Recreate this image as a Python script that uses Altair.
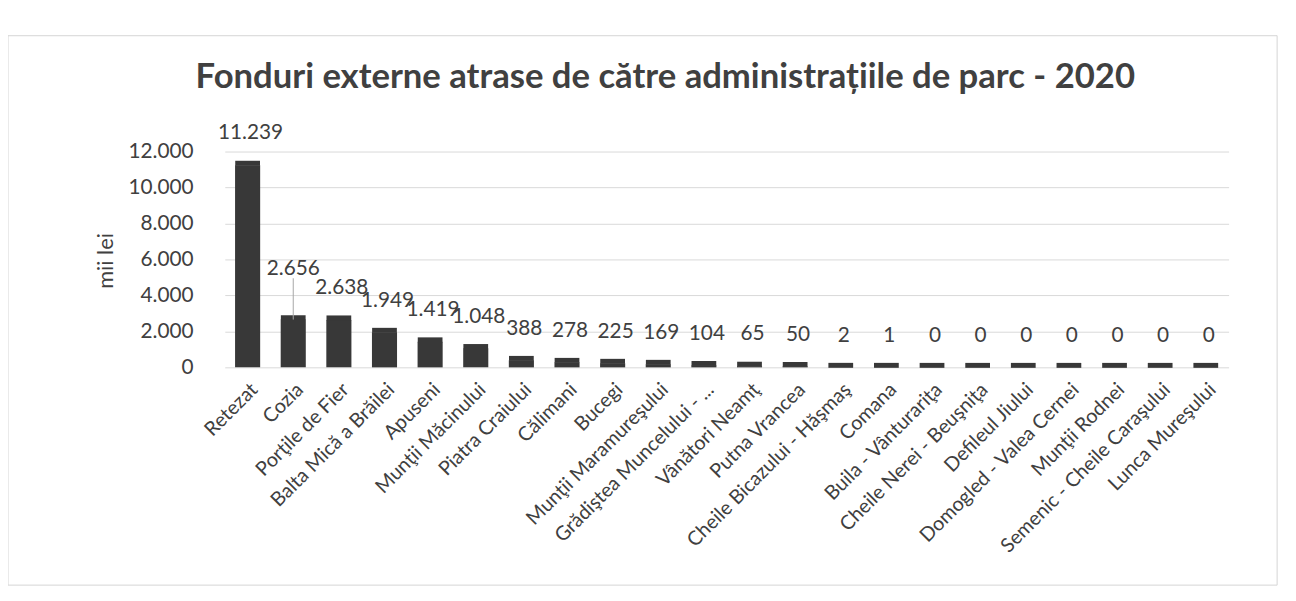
import altair as alt
import pandas as pd

parks = [
    "Retezat", "Cozia", "Porţile de Fier", "Balta Mică a Brăilei", "Apuseni",
    "Munţii Măcinului", "Piatra Craiului", "Călimani", "Bucegi",
    "Munţii Maramureşului", "Grădiştea Muncelului - ...", "Vânători Neamţ",
    "Putna Vrancea", "Cheile Bicazului - Hăşmaş", "Comana",
    "Buila - Vânturariţa", "Cheile Nerei - Beuşniţa", "Defileul Jiului",
    "Domogled - Valea Cernei", "Munţii Rodnei", "Semenic - Cheile Caraşului",
    "Lunca Mureşului",
]
values = [11239, 2656, 2638, 1949, 1419, 1048, 388, 278, 225, 169, 104, 65,
          50, 2, 1, 0, 0, 0, 0, 0, 0, 0]
y_ticks = [0, 2000, 4000, 6000, 8000, 10000, 12000]
title_text = "Fonduri externe atrase de către administrațiile de parc - 2020"
y_title = "mii lei"

df = pd.DataFrame({"park": parks, "value": values})

FONT = "Lato"
TXT = "#404040"
BAR = "#383838"
W, H = 1014, 218
FMT = "replace(format(datum.value, ','), ',', '.')"

xenc = alt.X(
    "park:N", sort=None,
    scale=alt.Scale(paddingInner=0.45, paddingOuter=0.225),
    axis=alt.Axis(title=None, labelAngle=-45, labelFontSize=20, labelColor=TXT,
                  labelFont=FONT, domain=False, ticks=False, labelPadding=12,
                  labelLimit=400),
)
yenc = alt.Y(
    "value:Q",
    scale=alt.Scale(domain=[0, 12000], nice=False),
    axis=alt.Axis(values=y_ticks, labelExpr=FMT, labelOverlap=False,
                  grid=True, gridColor="#d9d9d9", domain=False, ticks=False,
                  labelPadding=32, labelFontSize=21, labelColor=TXT, labelFont=FONT,
                  title=y_title, titleFontSize=22, titleFontWeight="normal",
                  titleColor=TXT, titleFont=FONT, titleX=-120, titleY=110,
                  titleBaseline="middle"),
)

base = alt.Chart(df)

bars = base.mark_bar(color=BAR).encode(x=xenc, y=yenc)

# flat top face of each (3D-looking) column, visible even for zero values
tops = base.mark_tick(color=BAR, opacity=1, thickness=5, size=25, yOffset=-2).encode(
    x=xenc, y=yenc)

label_base = base.transform_calculate(lbl=FMT)

labels = label_base.transform_filter("datum.park != 'Cozia'").mark_text(
    fontSize=21, font=FONT, color=TXT, baseline="middle", dy=-32, dx=3
).encode(x=xenc, y=yenc, text="lbl:N")

# Cozia's label is lifted with a leader line, as in the original
cozia_label = label_base.transform_filter("datum.park == 'Cozia'").mark_text(
    fontSize=21, font=FONT, color=TXT, baseline="middle", dy=-51
).encode(x=xenc, y=yenc, text="lbl:N")

cozia_leader = label_base.transform_filter("datum.park == 'Cozia'").mark_rule(
    color="#a6a6a6", strokeWidth=1
).encode(x=xenc, y=yenc, y2=alt.value(128))

title = alt.Chart(pd.DataFrame({"t": [title_text]})).mark_text(
    fontSize=35, font=FONT, fontWeight="bold", color=TXT,
    align="center", baseline="alphabetic"
).encode(x=alt.value(445), y=alt.value(-64), text="t:N")

frame = alt.Chart(pd.DataFrame({"a": [0]})).mark_rect(
    fillOpacity=0, stroke="#d4d4d4", strokeWidth=1
).encode(
    x=alt.value(-219), x2=alt.value(1063), y=alt.value(-117), y2=alt.value(438)
)

chart = alt.layer(frame, title, bars, tops, cozia_leader, labels, cozia_label).properties(
    width=W, height=H,
    autosize=alt.AutoSizeParams(type="none"),
    padding={"left": 219, "top": 142, "right": 60, "bottom": 230},
    background="white",
).configure_view(stroke=None)

chart.save("out.html", embed_options={"renderer": "svg", "actions": False})
